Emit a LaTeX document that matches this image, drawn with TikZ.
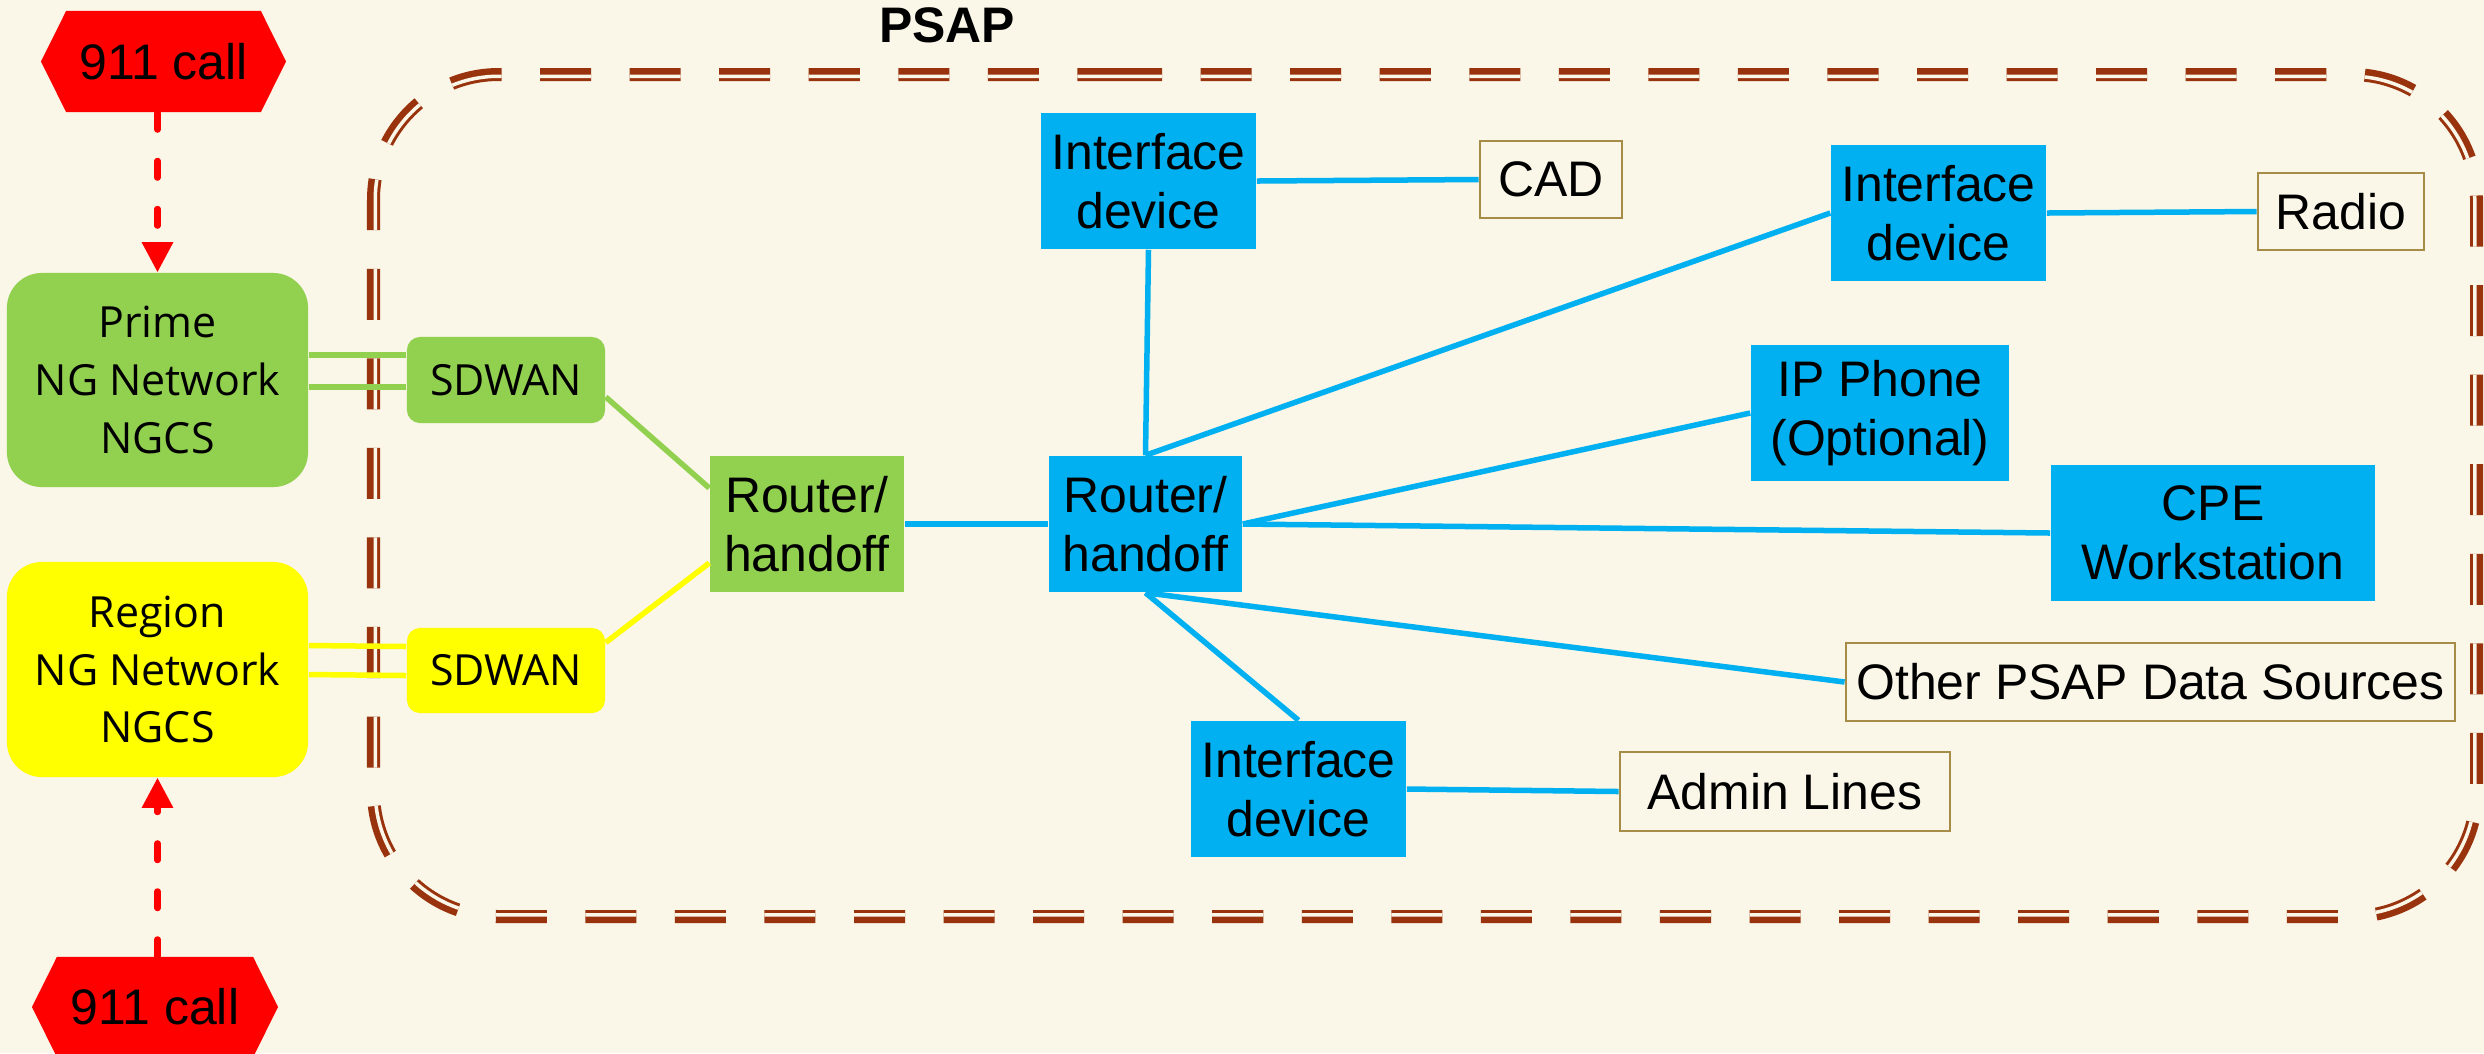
\documentclass[tikz,border=0pt]{standalone}
\usepackage{fontspec}
\setmainfont{Liberation Sans}
\newfontfamily\segoe{Open Sans}
\usetikzlibrary{shapes.symbols,arrows.meta,calc}
\definecolor{bgc}{RGB}{250,246,232}
\definecolor{brownC}{RGB}{153,51,13}
\definecolor{greenC}{RGB}{146,208,80}
\definecolor{yellowC}{RGB}{255,255,0}
\definecolor{blueC}{RGB}{0,176,240}
\definecolor{redC}{RGB}{255,0,0}
\definecolor{oliveC}{RGB}{166,140,70}
\begin{document}
\begin{tikzpicture}[x=0.01cm,y=-0.01cm,
  arialtxt/.style={font=\fontsize{14.2}{16.8}\selectfont, align=center, text=black, inner sep=0pt},
  bluebox/.style={arialtxt, fill=blueC},
  outbox/.style={arialtxt, draw=oliveC, line width=0.025cm},
  ngbox/.style={font=\segoe\fontsize{12.2}{16.4}\selectfont, align=center, inner sep=0pt, text=black},
  hexbox/.style={arialtxt, shape=signal, signal to=east and west, signal pointer angle=127, fill=redC},
  bl/.style={draw=blueC, line width=0.055cm},
  gl/.style={draw=greenC, line width=0.055cm},
  yl/.style={draw=yellowC, line width=0.055cm},
  callarrow/.style={draw=redC, line width=0.06cm, line cap=round, dash pattern=on 0.17cm off 0.31cm, -{Triangle[length=0.3cm,width=0.3cm]}},
  psapline/.style={line width=0.13cm, dash pattern=on 0.51cm off 0.385cm, dash phase=0.14cm, rounded corners=1.25cm}
]
\useasboundingbox (0,0) rectangle (2484,1053);
\clip (0,0) rectangle (2484,1053);
\fill[bgc] (0,0) rectangle (2484,1053);

% PSAP boundary (thick + thin compound dashed line)
\draw[psapline, draw=brownC] (1000,74.5) -- (2476.5,74.5) -- (2476.5,916.5) -- (373.5,916.5) -- (373.5,74.5) -- cycle;
\begin{scope}
  \clip[rounded corners=1.25cm] (1000,74.5) -- (2476.5,74.5) -- (2476.5,916.5) -- (373.5,916.5) -- (373.5,74.5) -- cycle;
  \draw[psapline, draw=bgc, line width=0.07cm] (1000,74.5) -- (2476.5,74.5) -- (2476.5,916.5) -- (373.5,916.5) -- (373.5,74.5) -- cycle;
\end{scope}
\node[font=\fontsize{14.2}{16.8}\selectfont\bfseries, inner sep=0pt] (psap) at (947,25) {PSAP};

% nodes
\node[hexbox, minimum width=2.45cm, minimum height=1.01cm] (call1) at (163.5,61.5) {911 call};
\node[hexbox, minimum width=2.46cm, minimum height=1.00cm] (call2) at (155,1007) {911 call};
\node[ngbox, fill=greenC, rounded corners=0.35cm, minimum width=3.01cm, minimum height=2.14cm] (prime) at (157.5,380) {Prime\\NG Network\\NGCS};
\node[ngbox, fill=yellowC, rounded corners=0.35cm, minimum width=3.01cm, minimum height=2.15cm] (region) at (157.5,669.5) {Region\\NG Network\\NGCS};
\node[ngbox, fill=greenC, rounded corners=0.13cm, minimum width=1.98cm, minimum height=0.86cm] (sd1) at (506,380) {SDWAN};
\node[ngbox, fill=yellowC, rounded corners=0.13cm, minimum width=1.98cm, minimum height=0.85cm] (sd2) at (506,670.5) {SDWAN};
\node[arialtxt, fill=greenC, minimum width=1.94cm, minimum height=1.36cm] (r1) at (807,524) {Router/\\handoff};
\node[bluebox, minimum width=1.93cm, minimum height=1.36cm] (r2) at (1145.5,524) {Router/\\handoff};
\node[bluebox, minimum width=2.15cm, minimum height=1.36cm] (if1) at (1148.5,181) {Interface\\device};
\node[outbox, minimum width=1.42cm, minimum height=0.77cm] (cad) at (1551,179.5) {CAD};
\node[bluebox, minimum width=2.15cm, minimum height=1.36cm] (if2) at (1938.5,213) {Interface\\device};
\node[outbox, minimum width=1.66cm, minimum height=0.77cm] (radio) at (2341,211.5) {Radio};
\node[bluebox, minimum width=2.58cm, minimum height=1.36cm] (ip) at (1880,413) {IP Phone\\(Optional)};
\node[bluebox, minimum width=3.24cm, minimum height=1.36cm] (cpe) at (2213,533) {CPE\\Workstation};
\node[outbox, minimum width=6.09cm, minimum height=0.78cm] (other) at (2150.5,682) {Other PSAP Data Sources};
\node[bluebox, minimum width=2.15cm, minimum height=1.36cm] (if3) at (1298.5,789) {Interface\\device};
\node[outbox, minimum width=3.30cm, minimum height=0.79cm] (admin) at (1785,791.5) {Admin Lines};

% connectors
\begin{scope}[on background layer/.style={}]
\draw[callarrow] (call1.south -| prime.north) -- (prime.north);
\draw[callarrow] (call2.north -| region.south) -- (region.south);
\draw[gl] ($(prime.east)+(0,-25)$) -- ($(sd1.west)+(0,-25)$);
\draw[gl] ($(prime.east)+(0,7)$) -- ($(sd1.west)+(0,7)$);
\draw[yl] ($(region.east)+(0,-24)$) -- ($(sd2.west)+(0,-24)$);
\draw[yl] ($(region.east)+(0,5)$) -- ($(sd2.west)+(0,5)$);
\draw[gl] ($(sd1.east)+(0,17)$) -- ($(r1.west)+(0,-36)$);
\draw[yl] ($(sd2.east)+(0,-28)$) -- ($(r1.west)+(0,39)$);
\draw[bl] (r1.east) -- (r2.west);
\draw[bl] (r2.north) -- (if1.south);
\draw[bl] (r2.north) -- (if2.west);
\draw[bl] (r2.east) -- (ip.west);
\draw[bl] (r2.east) -- (cpe.west);
\draw[bl] (r2.south) -- (other.west);
\draw[bl] (r2.south) -- (if3.north);
\draw[bl] (if1.east) -- (cad.west);
\draw[bl] (if2.east) -- (radio.west);
\draw[bl] (if3.east) -- (admin.west);
\end{scope}
\end{tikzpicture}
\end{document}
